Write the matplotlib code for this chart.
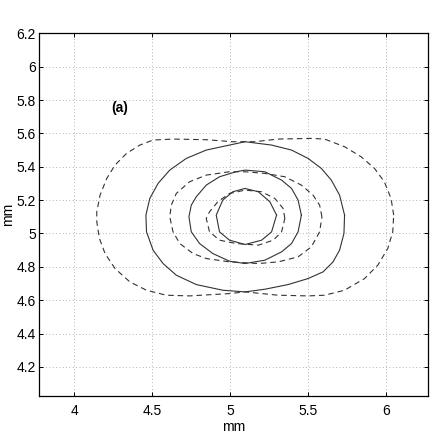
import matplotlib
matplotlib.use("Agg")
import matplotlib.pyplot as plt

plt.rcParams['font.family'] = ['Liberation Sans', 'DejaVu Sans']

# Solid contours (inner -> outer)
s1_x = [5.298, 5.255, 5.181, 5.096, 5.017, 4.953, 4.911, 4.932, 4.996, 5.096, 5.202, 5.266, 5.298]
s1_y = [5.11, 5.19, 5.25, 5.27, 5.25, 5.20, 5.11, 5.01, 4.96, 4.934, 4.96, 5.01, 5.11]

s2_x = [5.457, 5.436, 5.394, 5.33, 5.223, 5.096, 5.038, 4.932, 4.847, 4.783, 4.751, 4.736,
        4.751, 4.804, 4.889, 4.996, 5.096, 5.223, 5.33, 5.394, 5.436, 5.457]
s2_y = [5.11, 5.20, 5.27, 5.32, 5.37, 5.38, 5.37, 5.34, 5.29, 5.22, 5.17, 5.10,
        5.01, 4.94, 4.88, 4.834, 4.82, 4.84, 4.89, 4.94, 5.01, 5.11]

s3_x = [5.734, 5.702, 5.649, 5.585, 5.50, 5.394, 5.266, 5.096, 4.996, 4.847, 4.719, 4.613,
        4.538, 4.485, 4.46, 4.464, 4.506, 4.57, 4.655, 4.783, 4.953, 5.096, 5.223, 5.372,
        5.50, 5.596, 5.66, 5.702, 5.73, 5.734]
s3_y = [5.11, 5.23, 5.32, 5.39, 5.45, 5.50, 5.53, 5.55, 5.53, 5.50, 5.45, 5.38,
        5.30, 5.21, 5.11, 5.01, 4.90, 4.82, 4.75, 4.694, 4.66, 4.65, 4.666, 4.694,
        4.73, 4.77, 4.83, 4.90, 5.00, 5.11]

# Dashed contours (inner -> outer)
d1_x = [5.351, 5.34, 5.287, 5.202, 5.096, 4.996, 4.921, 4.868, 4.847, 4.868, 4.932, 5.038,
        5.181, 5.277, 5.33, 5.351]
d1_y = [5.09, 5.15, 5.21, 5.25, 5.26, 5.24, 5.19, 5.13, 5.09, 5.01, 4.96, 4.94,
        4.93, 4.96, 5.01, 5.09]

d2_x = [5.589, 5.574, 5.532, 5.457, 5.351, 5.223, 5.096, 4.996, 4.847, 4.74, 4.655, 4.623,
        4.613, 4.634, 4.677, 4.762, 4.847, 4.996, 5.181, 5.309, 5.436, 5.521, 5.574, 5.589]
d2_y = [5.10, 5.17, 5.23, 5.29, 5.34, 5.36, 5.37, 5.37, 5.35, 5.31, 5.24, 5.17,
        5.10, 5.01, 4.94, 4.88, 4.85, 4.83, 4.82, 4.83, 4.86, 4.92, 5.01, 5.10]

d3_x = [6.049, 6.032, 5.989, 5.926, 5.84, 5.734, 5.606, 5.521, 5.309, 5.155, 5.017, 4.847,
        4.634, 4.506, 4.421, 4.336, 4.262, 4.209, 4.166, 4.145, 4.145, 4.162, 4.198, 4.262,
        4.357, 4.464, 4.591, 4.74, 4.996, 5.096, 5.309, 5.50, 5.606, 5.734, 5.862, 5.947,
        6.011, 6.043, 6.049]
d3_y = [5.11, 5.21, 5.31, 5.39, 5.46, 5.52, 5.566, 5.57, 5.566, 5.55, 5.55, 5.562,
        5.566, 5.56, 5.53, 5.48, 5.41, 5.33, 5.23, 5.13, 5.07, 4.97, 4.88, 4.79,
        4.71, 4.66, 4.63, 4.626, 4.64, 4.65, 4.63, 4.626, 4.63, 4.66, 4.73, 4.81,
        4.91, 5.01, 5.11]

x_ticks = [4, 4.5, 5, 5.5, 6]
x_tick_labels = ["4", "4.5", "5", "5.5", "6"]
y_ticks = [4.2, 4.4, 4.6, 4.8, 5.0, 5.2, 5.4, 5.6, 5.8, 6.0, 6.2]
y_tick_labels = ["4.2", "4.4", "4.6", "4.8", "5", "5.2", "5.4", "5.6", "5.8", "6", "6.2"]

fig = plt.figure(figsize=(4.36, 4.36), dpi=100)
ax = fig.add_axes([0.090, 0.0917, 0.892, 0.832])

line_color = '#333333'
for xs, ys in [(s1_x, s1_y), (s2_x, s2_y), (s3_x, s3_y)]:
    ax.plot(xs, ys, color=line_color, lw=0.8, linestyle='-')
for xs, ys in [(d1_x, d1_y), (d2_x, d2_y), (d3_x, d3_y)]:
    ax.plot(xs, ys, color=line_color, lw=0.8, linestyle=(0, (5, 3.5)))

ax.set_xlim(3.776, 6.27)
ax.set_ylim(4.026, 6.2)
ax.set_xticks(x_ticks)
ax.set_xticklabels(x_tick_labels)
ax.set_yticks(y_ticks)
ax.set_yticklabels(y_tick_labels)

ax.grid(True, color='#9a9a9a', linestyle=(0, (1, 3)), lw=0.6)
ax.tick_params(direction='in', length=3, width=0.7, top=True, right=True,
               labelsize=10, colors='black')
ax.tick_params(axis='x', pad=6)
ax.tick_params(axis='y', pad=2.5)
for sp in ax.spines.values():
    sp.set_linewidth(0.9)

ax.set_xlabel('mm', fontsize=10, labelpad=1)
ax.set_ylabel('mm', fontsize=10, labelpad=1)

ax.text(4.293, 5.752, '(a)', fontsize=10, fontweight='bold', ha='center', va='center')

fig.savefig('out.png', dpi=100)
